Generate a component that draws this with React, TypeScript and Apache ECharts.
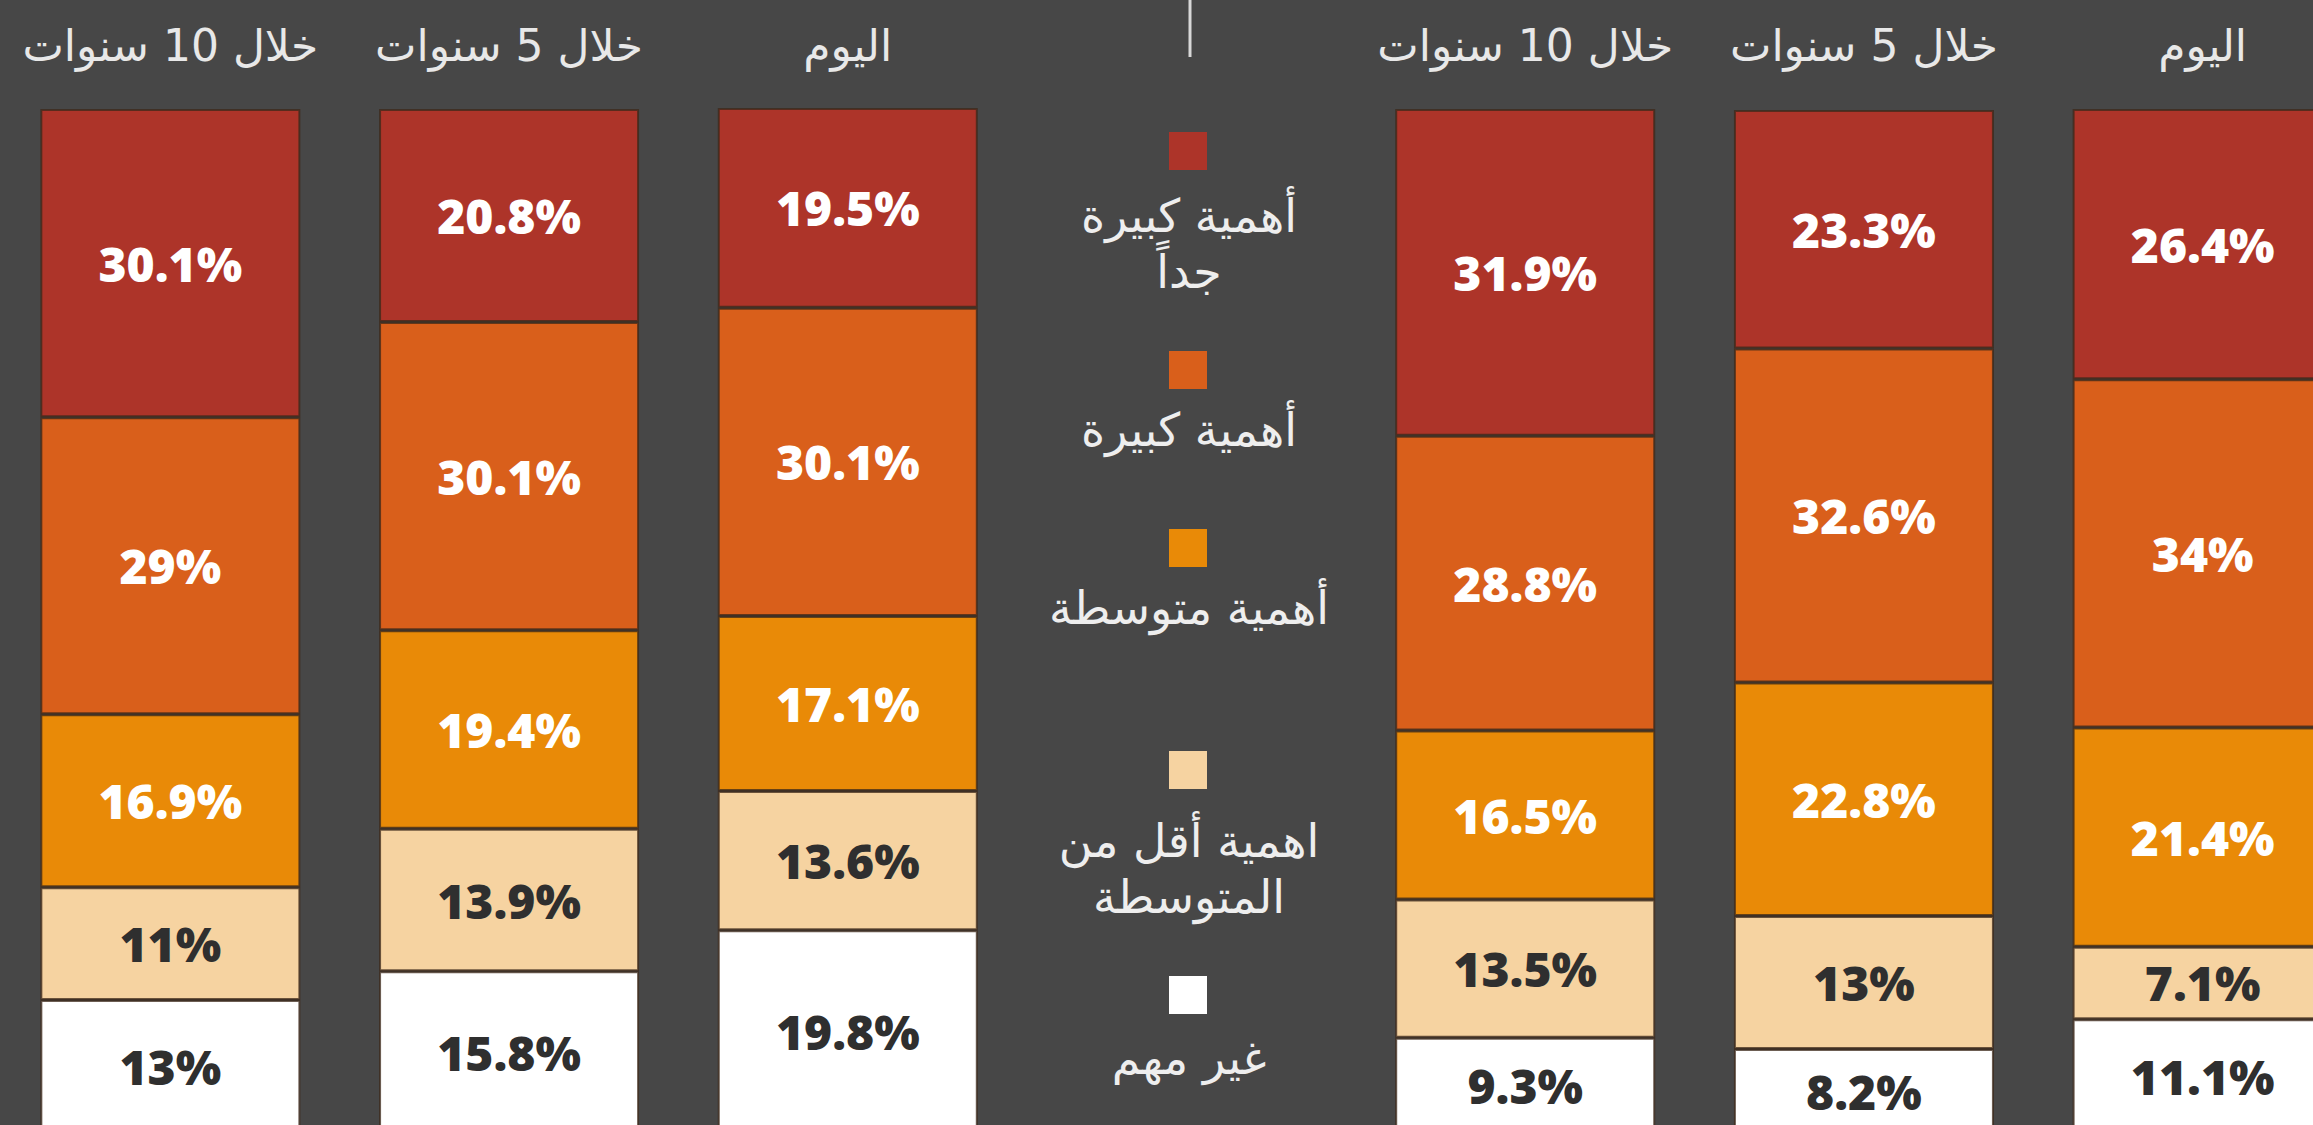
import React, { useEffect, useRef } from "react";
import * as echarts from "echarts";

// Period labels (same three periods for each of the two groups), middle slot is the legend gap
const periods = ["خلال 10 سنوات", "خلال 5 سنوات", "اليوم"];
const xLabels = [...periods, "", ...periods];

// Importance levels, bottom of the stack first
const levelNames = ["غير مهم", "اهمية أقل من المتوسطة", "أهمية متوسطة", "أهمية كبيرة", "أهمية كبيرة جداً"];
const legendLabels = ["أهمية كبيرة\nجداً", "أهمية كبيرة", "أهمية متوسطة", "اهمية أقل من\nالمتوسطة", "غير مهم"];
const levelColors = ["#ffffff", "#f6d3a1", "#e98a07", "#d95f1b", "#ad3429"];
const labelColors = ["#2f2f2f", "#2f2f2f", "#ffffff", "#ffffff", "#ffffff"];

// Values (%), left group then right group; null = legend gap
const notImportant = [13, 15.8, 19.8, null, 9.3, 8.2, 11.1];
const belowMedium = [11, 13.9, 13.6, null, 13.5, 13, 7.1];
const medium = [16.9, 19.4, 17.1, null, 16.5, 22.8, 21.4];
const high = [29, 30.1, 30.1, null, 28.8, 32.6, 34];
const veryHigh = [30.1, 20.8, 19.5, null, 31.9, 23.3, 26.4];

const seriesValues = [notImportant, belowMedium, medium, high, veryHigh];

const BG = "#474747";

export default function App() {
  const ref = useRef<HTMLDivElement>(null);

  useEffect(() => {
    if (!ref.current) return;
    const chart = echarts.init(ref.current, null, { renderer: "svg" });

    const legendTop = [151, 370, 548, 770, 995];
    const legendTextY = [244, 430, 608, 869, 1058];
    const legendGraphics: any[] = [];
    // legend order top to bottom: very high ... not important
    for (let k = 0; k < 5; k++) {
      const idx = 4 - k;
      legendGraphics.push({
        type: "rect",
        shape: { x: 1169, y: legendTop[k] - 19, width: 38, height: 38 },
        style: { fill: levelColors[idx] },
      });
      legendGraphics.push({
        type: "text",
        x: 1189,
        y: legendTextY[k],
        style: {
          text: legendLabels[k],
          fill: "#eeeeee",
          fontSize: 46,
          fontFamily: "DejaVu Sans",
          align: "center",
          verticalAlign: "middle",
          lineHeight: 56,
        },
      });
    }

    chart.setOption({
      animation: false,
      backgroundColor: BG,
      grid: { left: 1, top: 109, width: 2371, height: 1024 },
      xAxis: {
        type: "category",
        position: "top",
        data: xLabels,
        axisLine: { show: false },
        axisTick: { show: false },
        axisLabel: {
          color: "#e8e8e8",
          fontSize: 44,
          fontFamily: "DejaVu Sans",
          margin: 42,
          interval: 0,
        },
      },
      yAxis: {
        type: "value",
        min: 0,
        max: 100,
        show: false,
        splitLine: { show: false },
      },
      series: seriesValues.map((vals, i) => ({
        type: "bar",
        name: levelNames[i],
        stack: "total",
        barWidth: 260,
        data: vals.map((v) => (v === null ? "-" : v)),
        itemStyle: {
          color: levelColors[i],
          borderColor: "rgba(60,40,25,0.75)",
          borderWidth: 2,
        },
        label: {
          show: true,
          position: "inside",
          formatter: (p: any) => `${p.value}%`,
          color: labelColors[i],
          fontFamily: "Open Sans",
          fontWeight: 800,
          fontSize: 48,
        },
      })),
      graphic: [
        {
          type: "line",
          shape: { x1: 1190, y1: 0, x2: 1190, y2: 57 },
          style: { stroke: "#d8d8d8", lineWidth: 3 },
        },
        ...legendGraphics,
      ],
    });

    return () => chart.dispose();
  }, []);

  return (
    <div
      style={{
        position: "fixed",
        left: 0,
        top: 0,
        width: 2313,
        height: 1125,
        overflow: "hidden",
        background: BG,
      }}
    >
      <div ref={ref} style={{ position: "absolute", left: 0, top: 0, width: 2400, height: 1200 }} />
    </div>
  );
}
